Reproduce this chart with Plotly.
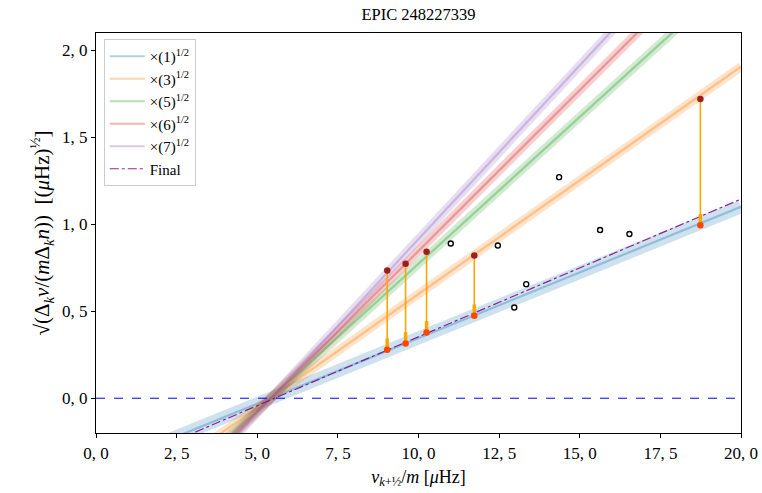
import numpy as np
import plotly.graph_objects as go

# ---- data ----
multipliers = [1, 3, 5, 6, 7]
legend_labels = ["×(1)<sup>1/2</sup>", "×(3)<sup>1/2</sup>", "×(5)<sup>1/2</sup>",
                 "×(6)<sup>1/2</sup>", "×(7)<sup>1/2</sup>"]
line_colors = ["31,119,180", "255,127,14", "44,160,44", "214,39,40", "148,103,189"]
base_slope = 0.0755
base_x0 = 5.42
final_slope = 0.0792
final_x0 = 5.54

top_x = [9.03, 9.60, 10.25, 11.73, 18.74]
top_y = [0.734, 0.773, 0.842, 0.821, 1.721]
bottom_y = [0.279, 0.315, 0.378, 0.474, 0.994]

open_x = [11.0, 12.46, 12.97, 13.34, 14.36, 15.63, 16.54]
open_y = [0.890, 0.878, 0.522, 0.656, 1.271, 0.967, 0.944]

x_tickvals = [0, 2.5, 5, 7.5, 10, 12.5, 15, 17.5, 20]
x_ticktext = ["0, 0", "2, 5", "5, 0", "7, 5", "10, 0", "12, 5", "15, 0", "17, 5", "20, 0"]
y_tickvals = [0, 0.5, 1.0, 1.5, 2.0]
y_ticktext = ["0, 0", "0, 5", "1, 0", "1, 5", "2, 0"]

FONT = "Liberation Serif"

fig = go.Figure()
xs = np.linspace(0, 20, 200)

for m, lab, c in zip(multipliers, legend_labels, line_colors):
    ys = np.sqrt(m) * base_slope * (xs - base_x0)
    bw = 13 if m == 1 else 9
    fig.add_trace(go.Scatter(x=xs, y=ys, mode="lines", showlegend=False, hoverinfo="skip",
                             line=dict(color=f"rgba({c},0.22)", width=bw)))
    fig.add_trace(go.Scatter(x=xs, y=ys, mode="lines", name=lab,
                             line=dict(color=f"rgba({c},0.35)", width=2.2)))

# final line
fig.add_trace(go.Scatter(x=xs, y=final_slope * (xs - final_x0), mode="lines", name="Final",
                         line=dict(color="rgba(128,0,128,0.85)", width=1.2, dash="dashdot")))

# zero line
fig.add_trace(go.Scatter(x=[0, 20], y=[0, 0], mode="lines", showlegend=False,
                         line=dict(color="blue", width=1, dash="dash")))

# arrows
for xv, yt, yb in zip(top_x, top_y, bottom_y):
    fig.add_trace(go.Scatter(x=[xv, xv], y=[yt, yb], mode="lines", showlegend=False,
                             line=dict(color="orange", width=1.6)))
    fig.add_trace(go.Scatter(x=[xv, xv], y=[yb + 0.065, yb + 0.005], mode="lines", showlegend=False,
                             line=dict(color="orange", width=3.5)))

# open circles
fig.add_trace(go.Scatter(x=open_x, y=open_y, mode="markers", showlegend=False,
                         marker=dict(size=5, color="white", line=dict(color="black", width=1.4))))
# top points
fig.add_trace(go.Scatter(x=top_x, y=top_y, mode="markers", showlegend=False,
                         marker=dict(size=6.5, color="#9b1f1f")))
# bottom points
fig.add_trace(go.Scatter(x=top_x, y=bottom_y, mode="markers", showlegend=False,
                         marker=dict(size=6.5, color="orangered")))

axis_common = dict(showline=True, linecolor="black", linewidth=1.2, mirror=True,
                   ticks="outside", ticklen=4, tickcolor="black", showgrid=False,
                   zeroline=False, automargin=False,
                   tickfont=dict(family=FONT, size=17, color="black"))

fig.update_layout(
    width=762, height=493,
    margin=dict(l=96, r=21, t=33, b=60),
    paper_bgcolor="white", plot_bgcolor="white",
    title=dict(text="EPIC 248227339", x=0.5, xref="paper", xanchor="center",
               y=0.971, yanchor="middle",
               font=dict(family=FONT, size=16.5, color="black")),
    xaxis=dict(range=[0, 20], tickvals=x_tickvals, ticktext=x_ticktext,
               title=dict(text="<i>ν</i><sub><i>k</i>+½</sub>/<i>m</i> [<i>μ</i>Hz]",
                          font=dict(family=FONT, size=18, color="black"), standoff=8),
               **axis_common),
    yaxis=dict(range=[-0.2, 2.1], tickvals=y_tickvals, ticktext=y_ticktext,
               title=dict(text="√(Δ<sub><i>k</i></sub><i>ν</i>/(<i>m</i>Δ<sub><i>k</i></sub><i>n</i>))  [(<i>μ</i>Hz)<sup>½</sup>]",
                          font=dict(family=FONT, size=21, color="black"), standoff=6),
               **axis_common),
    legend=dict(x=0.012, y=0.985, xanchor="left", yanchor="top",
                bgcolor="rgba(255,255,255,0.8)", bordercolor="#cccccc", borderwidth=1,
                font=dict(family=FONT, size=15, color="black"), itemwidth=35),
    showlegend=True,
)

fig.write_html("out.html", config={"displayModeBar": False},
               post_script="document.body.style.margin='0';document.body.style.overflow='hidden';")
